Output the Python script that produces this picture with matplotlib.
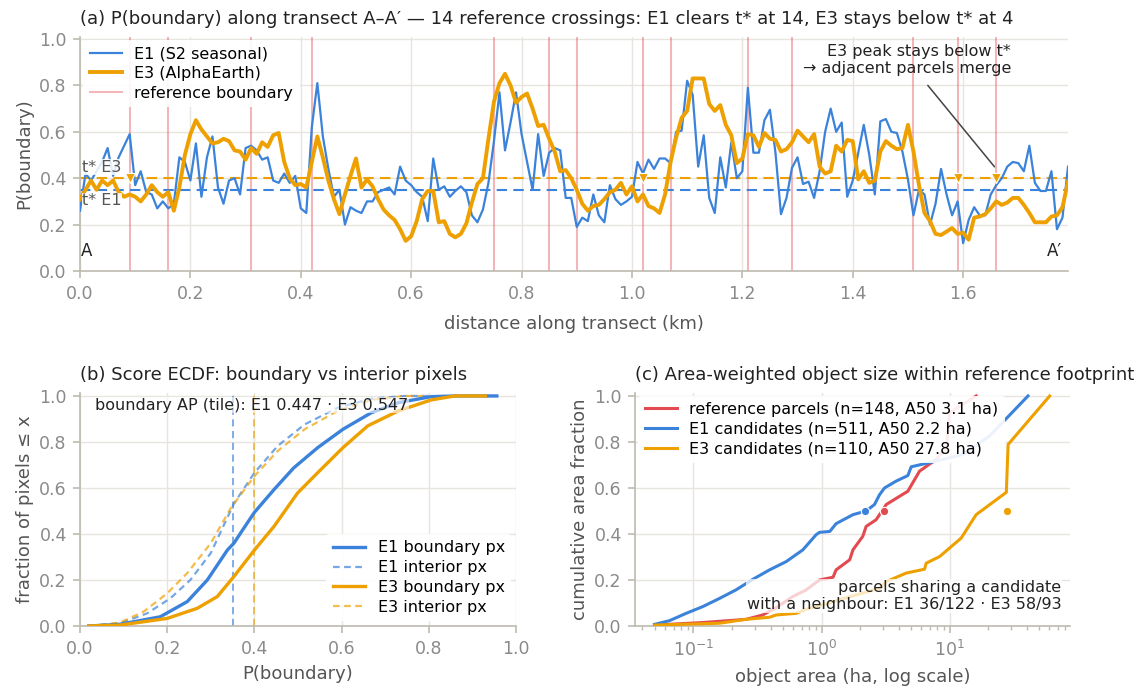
import numpy as np
import matplotlib
matplotlib.use("Agg")
import matplotlib.pyplot as plt

# ---------------- data: panel (a) transect ----------------
dist_km = [round(0.01 * i, 2) for i in range(180)]
e1_prob = [
    0.26, 0.42, 0.39, 0.43, 0.47, 0.53, 0.41, 0.49, 0.54, 0.59,
    0.37, 0.43, 0.34, 0.33, 0.27, 0.30, 0.27, 0.29, 0.49, 0.47,
    0.39, 0.55, 0.32, 0.49, 0.58, 0.36, 0.29, 0.39, 0.40, 0.33,
    0.53, 0.54, 0.52, 0.48, 0.49, 0.39, 0.38, 0.42, 0.38, 0.41,
    0.27, 0.25, 0.62, 0.81, 0.58, 0.44, 0.32, 0.35, 0.20, 0.275,
    0.26, 0.25, 0.30, 0.30, 0.34, 0.35, 0.36, 0.33, 0.45, 0.39,
    0.37, 0.34, 0.32, 0.215, 0.485, 0.35, 0.365, 0.32, 0.345, 0.365,
    0.34, 0.24, 0.21, 0.265, 0.38, 0.56, 0.77, 0.52, 0.64, 0.77,
    0.59, 0.47, 0.35, 0.59, 0.41, 0.51, 0.53, 0.52, 0.315, 0.315,
    0.19, 0.23, 0.215, 0.33, 0.24, 0.21, 0.37, 0.31, 0.285, 0.30,
    0.32, 0.47, 0.42, 0.48, 0.44, 0.485, 0.485, 0.465, 0.60, 0.605,
    0.82, 0.76, 0.45, 0.585, 0.315, 0.25, 0.49, 0.36, 0.555, 0.40,
    0.43, 0.79, 0.51, 0.51, 0.65, 0.695, 0.51, 0.245, 0.315, 0.445,
    0.49, 0.375, 0.385, 0.315, 0.43, 0.60, 0.70, 0.60, 0.64, 0.32,
    0.39, 0.51, 0.63, 0.50, 0.33, 0.645, 0.655, 0.60, 0.595, 0.515,
    0.395, 0.24, 0.35, 0.33, 0.20, 0.29, 0.44, 0.33, 0.24, 0.30,
    0.12, 0.22, 0.275, 0.24, 0.24, 0.33, 0.37, 0.40, 0.45, 0.47,
    0.465, 0.43, 0.54, 0.38, 0.345, 0.345, 0.43, 0.18, 0.23, 0.45,
]
e3_prob = [
    0.31, 0.35, 0.39, 0.35, 0.39, 0.37, 0.39, 0.34, 0.32, 0.33,
    0.32, 0.30, 0.33, 0.37, 0.34, 0.32, 0.34, 0.26, 0.36, 0.50,
    0.59, 0.65, 0.61, 0.58, 0.55, 0.555, 0.57, 0.56, 0.52, 0.515,
    0.48, 0.53, 0.505, 0.555, 0.535, 0.585, 0.595, 0.47, 0.40, 0.37,
    0.375, 0.36, 0.47, 0.58, 0.49, 0.39, 0.31, 0.245, 0.33, 0.41,
    0.485, 0.36, 0.395, 0.365, 0.31, 0.265, 0.24, 0.22, 0.18, 0.13,
    0.15, 0.215, 0.31, 0.345, 0.345, 0.21, 0.215, 0.16, 0.145, 0.16,
    0.205, 0.295, 0.375, 0.40, 0.57, 0.73, 0.81, 0.85, 0.80, 0.725,
    0.75, 0.765, 0.70, 0.625, 0.63, 0.57, 0.515, 0.43, 0.435, 0.40,
    0.35, 0.29, 0.26, 0.28, 0.285, 0.31, 0.34, 0.35, 0.38, 0.33,
    0.365, 0.30, 0.33, 0.28, 0.27, 0.25, 0.33, 0.47, 0.575, 0.66,
    0.69, 0.83, 0.83, 0.83, 0.72, 0.69, 0.715, 0.63, 0.585, 0.465,
    0.485, 0.59, 0.585, 0.535, 0.595, 0.57, 0.565, 0.515, 0.525, 0.555,
    0.605, 0.58, 0.555, 0.59, 0.45, 0.42, 0.43, 0.54, 0.515, 0.565,
    0.56, 0.395, 0.43, 0.38, 0.39, 0.515, 0.56, 0.54, 0.525, 0.53,
    0.63, 0.515, 0.37, 0.25, 0.215, 0.16, 0.155, 0.17, 0.185, 0.16,
    0.165, 0.135, 0.23, 0.235, 0.245, 0.27, 0.30, 0.285, 0.295, 0.315,
    0.315, 0.285, 0.25, 0.21, 0.21, 0.21, 0.235, 0.24, 0.275, 0.385,
]
ref_crossings_km = [0.09, 0.16, 0.31, 0.42, 0.75, 0.85, 0.90, 1.02, 1.07,
                    1.21, 1.29, 1.51, 1.59, 1.66]
e3_missed_km = [0.09, 1.02, 1.59, 1.66]
t_star_e1 = 0.35
t_star_e3 = 0.40

# ---------------- data: panel (b) ECDFs ----------------
ecdf_e1_bnd_x = [0.02, 0.09, 0.184, 0.246, 0.292, 0.338, 0.353, 0.376, 0.40, 0.445,
                 0.49, 0.545, 0.603, 0.668, 0.73, 0.806, 0.86, 0.956]
ecdf_e1_bnd_f = [0.0, 0.007, 0.04, 0.106, 0.20, 0.33, 0.36, 0.426, 0.494, 0.593,
                 0.687, 0.775, 0.855, 0.927, 0.971, 0.997, 1.0, 1.0]
ecdf_e3_bnd_x = [0.02, 0.092, 0.20, 0.269, 0.315, 0.353, 0.40, 0.445, 0.499, 0.545,
                 0.603, 0.66, 0.73, 0.806, 0.86, 0.93]
ecdf_e3_bnd_f = [0.0, 0.004, 0.033, 0.077, 0.128, 0.215, 0.33, 0.433, 0.578, 0.666,
                 0.775, 0.87, 0.935, 0.983, 1.0, 1.0]
ecdf_e1_int_x = [0.02, 0.092, 0.154, 0.207, 0.253, 0.30, 0.353, 0.40, 0.453, 0.515,
                 0.591, 0.668, 0.745, 0.80]
ecdf_e1_int_f = [0.0, 0.012, 0.055, 0.12, 0.20, 0.317, 0.532, 0.666, 0.782, 0.876,
                 0.949, 0.988, 1.0, 1.0]
ecdf_e3_int_x = [0.02, 0.092, 0.146, 0.20, 0.246, 0.30, 0.346, 0.40, 0.453, 0.515,
                 0.591, 0.668, 0.745, 0.80]
ecdf_e3_int_f = [0.0, 0.015, 0.0625, 0.142, 0.23, 0.36, 0.513, 0.651, 0.76, 0.855,
                 0.935, 0.983, 1.0, 1.0]
ap_e1 = 0.447
ap_e3 = 0.547

# ---------------- data: panel (c) area-weighted object size ----------------
ref_area_ha = [0.05, 0.118, 0.258, 0.348, 0.443, 0.597, 0.759, 0.964, 1.23, 1.30,
               1.66, 1.76, 2.10, 2.23, 2.67, 3.20, 4.72, 5.82, 7.85, 9.42, 10.0, 16.1]
ref_cum = [0.004, 0.015, 0.029, 0.048, 0.08, 0.128, 0.157, 0.20, 0.212, 0.244,
           0.288, 0.331, 0.39, 0.433, 0.462, 0.528, 0.586, 0.673, 0.724, 0.775, 0.927, 1.0]
e1_area_ha = [0.0496, 0.0649, 0.0877, 0.118, 0.160, 0.215, 0.291, 0.393, 0.530, 0.715,
              0.908, 0.964, 1.16, 1.30, 1.76, 2.23, 2.59, 2.84, 3.10, 3.83, 4.72, 5.01,
              7.85, 12.7, 20.5, 40.9]
e1_cum = [0.007, 0.023, 0.055, 0.084, 0.12, 0.157, 0.203, 0.244, 0.28, 0.331,
          0.397, 0.407, 0.411, 0.445, 0.484, 0.50, 0.528, 0.571, 0.60, 0.63, 0.654, 0.692,
          0.717, 0.746, 0.826, 1.0]
e3_area_ha = [0.05, 0.160, 0.258, 0.393, 0.443, 0.634, 0.759, 1.09, 1.50, 2.00,
              2.84, 3.20, 4.58, 6.37, 6.56, 8.36, 12.3, 16.1, 27.7, 28.6, 60.4]
e3_cum = [0.004, 0.012, 0.029, 0.038, 0.048, 0.055, 0.073, 0.096, 0.12, 0.14,
          0.164, 0.193, 0.23, 0.247, 0.273, 0.302, 0.382, 0.484, 0.581, 0.789, 1.0]
a50_labels = ["reference parcels (n=148, A50 3.1 ha)",
              "E1 candidates (n=511, A50 2.2 ha)",
              "E3 candidates (n=110, A50 27.8 ha)"]
a50_values = [3.1, 2.2, 27.8]

# ---------------- style ----------------
C_E1 = "#3b82db"
C_E3 = "#eea000"
C_REF = "#e34a4f"
C_SPINE = "#bdbab0"
C_GRID = "#e7e5e0"
C_TICK = "#8a8a8a"
C_LAB = "#555555"
C_TXT = "#222222"

plt.rcParams.update({
    "font.family": ["DejaVu Sans"],
    "font.size": 12,
    "axes.edgecolor": C_SPINE,
    "axes.labelcolor": C_LAB,
    "axes.labelsize": 13,
    "axes.titlesize": 13,
    "axes.titlecolor": C_TXT,
    "xtick.color": C_SPINE,
    "ytick.color": C_SPINE,
    "xtick.labelcolor": C_TICK,
    "ytick.labelcolor": C_TICK,
    "xtick.labelsize": 12.5,
    "ytick.labelsize": 12.5,
    "xtick.major.pad": 5,
    "ytick.major.pad": 4.5,
    "axes.grid": True,
    "grid.color": C_GRID,
    "grid.linewidth": 1.0,
    "axes.spines.top": False,
    "axes.spines.right": False,
    "axes.linewidth": 1.2,
    "xtick.major.width": 1.2,
    "ytick.major.width": 1.2,
    "xtick.major.size": 5,
    "ytick.major.size": 5,
    "legend.fontsize": 11.5,
})

fig = plt.figure(figsize=(11.4, 6.92), dpi=100)
ax_a = fig.add_axes([80 / 1140, 1 - 271 / 692, 988 / 1140, 234.3 / 692])
ax_b = fig.add_axes([80 / 1140, 1 - 626 / 692, 436 / 1140, 233.5 / 692])
ax_c = fig.add_axes([635 / 1140, 1 - 626 / 692, 435 / 1140, 233.5 / 692])

for ax in (ax_a, ax_b, ax_c):
    ax.set_axisbelow(True)

# ---------------- panel (a) ----------------
x = np.array(dist_km)
for i, xc in enumerate(ref_crossings_km):
    ax_a.axvline(xc, color=C_REF, alpha=0.4, lw=1.5, zorder=1,
                 label="reference boundary" if i == 0 else None)
ax_a.axhline(t_star_e1, color=C_E1, ls=(0, (5, 3)), lw=1.5, zorder=2)
ax_a.axhline(t_star_e3, color=C_E3, ls=(0, (5, 3)), lw=1.5, zorder=2)
ax_a.plot(x, e1_prob, color=C_E1, lw=1.6, zorder=3, label="E1 (S2 seasonal)")
ax_a.plot(x, e3_prob, color=C_E3, lw=2.8, zorder=4, label="E3 (AlphaEarth)")
ax_a.plot(e3_missed_km, [t_star_e3] * len(e3_missed_km), ls="none", marker="v",
          ms=7, color=C_E3, mec="white", mew=0.8, zorder=5)
ax_a.set_xlim(0, 1.79)
ax_a.set_ylim(0, 1.01)
ax_a.set_xticks(np.arange(0, 1.8, 0.2))
ax_a.set_yticks(np.arange(0, 1.01, 0.2))
ax_a.set_xlabel("distance along transect (km)", labelpad=9)
ax_a.set_ylabel("P(boundary)")
ax_a.set_title("(a) P(boundary) along transect A\u2013A\u2032 \u2014 14 reference crossings: "
               "E1 clears t* at 14, E3 stays below t* at 4", loc="left", pad=9)
h, l = ax_a.get_legend_handles_labels()
order = [l.index("E1 (S2 seasonal)"), l.index("E3 (AlphaEarth)"), l.index("reference boundary")]
leg = ax_a.legend([h[i] for i in order], [l[i] for i in order], loc="upper left",
                  frameon=True, facecolor="white", edgecolor="none", framealpha=0.9,
                  borderaxespad=0.2, handlelength=2.0, labelspacing=0.3)
leg.set_zorder(6)
bb = dict(facecolor="white", edgecolor="none", alpha=0.85, pad=0.5)
ax_a.text(0.004, t_star_e3 + 0.015, "t* E3", color=C_LAB, fontsize=11.5,
          ha="left", va="bottom", bbox=bb, zorder=5)
ax_a.text(0.004, t_star_e1 - 0.015, "t* E1", color=C_LAB, fontsize=11.5,
          ha="left", va="top", bbox=bb, zorder=5)
ax_a.text(0.012, 0.085, "A", color=C_TXT, fontsize=12, ha="center", va="center")
ax_a.text(1.765, 0.085, "A\u2032", color=C_TXT, fontsize=12, ha="center", va="center")
ax_a.annotate("E3 peak stays below t*\n\u2192 adjacent parcels merge",
              xy=(1.66, 0.44), xytext=(1.687, 0.84), ha="right", va="bottom",
              fontsize=11.5, color=C_TXT,
              arrowprops=dict(arrowstyle="-", color="#444444", lw=1.1,
                              shrinkA=6, shrinkB=2), zorder=7)

# ---------------- panel (b) ----------------
ax_b.axvline(t_star_e1, color=C_E1, ls=(0, (4, 2.5)), lw=1.3, alpha=0.7, zorder=1)
ax_b.axvline(t_star_e3, color=C_E3, ls=(0, (4, 2.5)), lw=1.3, alpha=0.7, zorder=1)
ax_b.plot(ecdf_e1_bnd_x, ecdf_e1_bnd_f, color=C_E1, lw=2.4, label="E1 boundary px", zorder=3)
ax_b.plot(ecdf_e1_int_x, ecdf_e1_int_f, color=C_E1, lw=1.6, ls=(0, (3, 2)), alpha=0.7,
          label="E1 interior px", zorder=2)
ax_b.plot(ecdf_e3_bnd_x, ecdf_e3_bnd_f, color=C_E3, lw=2.4, label="E3 boundary px", zorder=3)
ax_b.plot(ecdf_e3_int_x, ecdf_e3_int_f, color=C_E3, lw=1.6, ls=(0, (3, 2)), alpha=0.7,
          label="E3 interior px", zorder=2)
ax_b.set_xlim(0, 1.0)
ax_b.set_ylim(0, 1.015)
ax_b.set_xticks(np.arange(0, 1.01, 0.2))
ax_b.set_yticks(np.arange(0, 1.01, 0.2))
ax_b.set_xlabel("P(boundary)", labelpad=5)
ax_b.set_ylabel("fraction of pixels \u2264 x")
ax_b.set_title("(b) Score ECDF: boundary vs interior pixels", loc="left", pad=9)
ax_b.text(0.034, 0.96, f"boundary AP (tile): E1 {ap_e1:.3f} \u00b7 E3 {ap_e3:.3f}",
          fontsize=11.5, color=C_TXT, ha="left", va="center", zorder=5,
          bbox=dict(facecolor="white", edgecolor="none", alpha=0.6, pad=0.5))
legb = ax_b.legend(loc="lower right", frameon=True, facecolor="white", edgecolor="none",
                   framealpha=0.9, borderaxespad=0.3, handlelength=2.0, labelspacing=0.3)

# ---------------- panel (c) ----------------
ax_c.set_xscale("log")
ax_c.plot(ref_area_ha, ref_cum, color=C_REF, lw=2.2, label=a50_labels[0], zorder=3)
ax_c.plot(e1_area_ha, e1_cum, color=C_E1, lw=2.2, label=a50_labels[1], zorder=3)
ax_c.plot(e3_area_ha, e3_cum, color=C_E3, lw=2.2, label=a50_labels[2], zorder=3)
for v, c in zip(a50_values, [C_REF, C_E1, C_E3]):
    ax_c.plot([v], [0.5], ls="none", marker="o", ms=6, color=c, mec="white", mew=0.8, zorder=4)
ax_c.set_xlim(0.035, 87)
ax_c.set_ylim(0, 1.015)
ax_c.set_yticks(np.arange(0, 1.01, 0.2))
ax_c.set_xlabel("object area (ha, log scale)", labelpad=6)
ax_c.set_ylabel("cumulative area fraction")
ax_c.set_title("(c) Area-weighted object size within reference footprint", loc="left", pad=9)
ax_c.tick_params(axis="x", which="minor", color=C_SPINE, width=1.0, size=3)
ax_c.grid(True, which="major")
ax_c.grid(False, which="minor")
legc = ax_c.legend(loc="upper left", frameon=True, facecolor="white", edgecolor="none",
                   framealpha=0.9, borderaxespad=0.2, handlelength=2.0, labelspacing=0.3)
legc.set_zorder(6)
ax_c.text(0.98, 0.06, "parcels sharing a candidate\nwith a neighbour: E1 36/122 \u00b7 E3 58/93",
          transform=ax_c.transAxes, ha="right", va="bottom", fontsize=11.5, color=C_TXT,
          zorder=5, bbox=dict(facecolor="white", edgecolor="none", alpha=0.75, pad=0.5))

fig.savefig("out.png", dpi=100)
